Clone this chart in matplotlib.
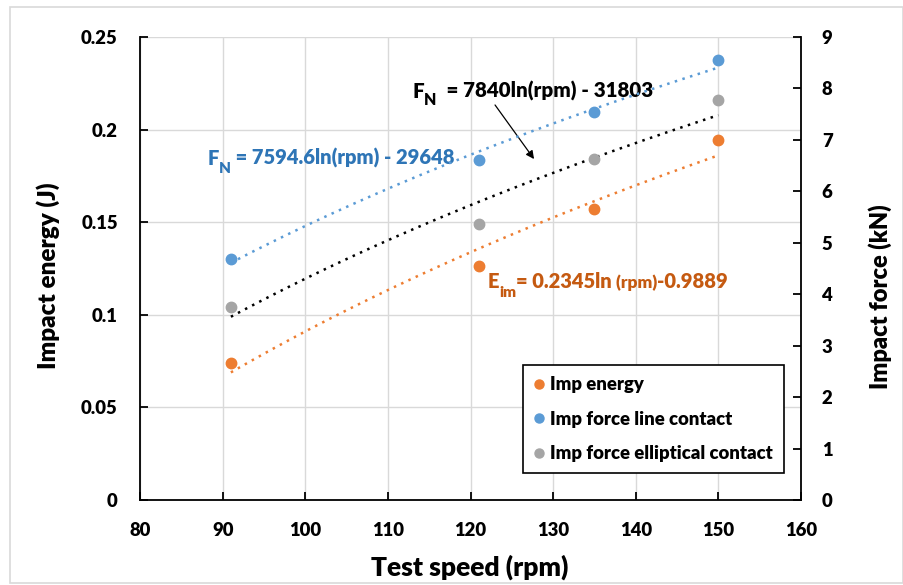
import numpy as np
import matplotlib
matplotlib.use("Agg")
import matplotlib.pyplot as plt
from matplotlib.lines import Line2D
from matplotlib.patches import Rectangle

WEIGHT = "heavy"
plt.rcParams["font.family"] = ["Lato", "DejaVu Sans"]
plt.rcParams["font.weight"] = WEIGHT

# Test data
speed_rpm = [91, 121, 135, 150]
impact_energy_J = [0.0738, 0.1264, 0.1571, 0.1942]
force_line_kN = [4.685, 6.61, 7.54, 8.547]
force_elliptical_kN = [3.757, 5.36, 6.62, 7.77]

# Logarithmic trendline coefficients: y = a*ln(rpm) + b
energy_fit = (0.2345, -0.9889)        # J
line_fit = (7594.6, -29648)           # N
elliptical_fit = (7840, -31803)       # N

ORANGE = "#ED7D31"
BLUE = "#5B9BD5"
GRAY = "#A5A5A5"
BLUE_TXT = "#2E75B6"
ORANGE_TXT = "#C55A11"

fig = plt.figure(figsize=(9.04, 5.85), dpi=100)
fig.patches.append(Rectangle((10 / 904, 2 / 585), 893 / 904, 576 / 585,
                             transform=fig.transFigure, fill=False,
                             edgecolor="#D9D9D9", linewidth=1.2))
ax = fig.add_axes([140 / 904, 85 / 585, 661 / 904, 463 / 585])
ax2 = ax.twinx()

ax.set_xlim(80, 160)
ax.set_ylim(0, 0.25)
ax2.set_ylim(0, 9)
ax.set_xticks(np.arange(80, 161, 10))
ax.set_yticks([0, 0.05, 0.1, 0.15, 0.2, 0.25])
ax.set_yticklabels(["0", "0.05", "0.1", "0.15", "0.2", "0.25"])
ax2.set_yticks(range(0, 10))

ax.grid(True, color="#D9D9D9", linewidth=1.0)
ax.set_axisbelow(True)

for a in (ax, ax2):
    a.spines["top"].set_visible(False)
    for s in ("left", "right", "bottom"):
        a.spines[s].set_linewidth(1.3)
        a.spines[s].set_color("black")
ax.spines["right"].set_visible(False)
ax2.spines["left"].set_visible(False)
ax2.spines["bottom"].set_visible(False)

ax.tick_params(axis="both", direction="in", length=6, width=1.3, pad=16,
               labelsize=13.3)
ax2.tick_params(axis="y", direction="in", length=6, width=1.3, pad=15,
                labelsize=13.3)
for lbl in ax.get_xticklabels() + ax.get_yticklabels() + ax2.get_yticklabels():
    lbl.set_fontweight(WEIGHT)

# Trendlines over the tested speed range
x_fit = np.linspace(min(speed_rpm), max(speed_rpm), 200)
dot = dict(linestyle=(0, (1, 2.2)), linewidth=1.8, dash_capstyle="butt")
ax.plot(x_fit, energy_fit[0] * np.log(x_fit) + energy_fit[1], color=ORANGE, **dot, zorder=2)
ax2.plot(x_fit, (line_fit[0] * np.log(x_fit) + line_fit[1]) / 1000, color=BLUE, **dot, zorder=2)
ax2.plot(x_fit, (elliptical_fit[0] * np.log(x_fit) + elliptical_fit[1]) / 1000, color="black", **dot, zorder=2)

# Measured points
ms = 7.5
ax.plot(speed_rpm, impact_energy_J, "o", color=ORANGE, ms=ms, zorder=3)
ax2.plot(speed_rpm, force_line_kN, "o", color=BLUE, ms=ms, zorder=3)
ax2.plot(speed_rpm, force_elliptical_kN, "o", color=GRAY, ms=ms, zorder=3)

# Axis titles
ax.set_xlabel("Test speed (rpm)", fontsize=19, fontweight=WEIGHT)
ax.xaxis.set_label_coords(0.499, -0.1445)
ax.xaxis.label.set_va("center")
ax.set_ylabel("Impact energy (J)", fontsize=17.5, fontweight=WEIGHT)
ax.yaxis.set_label_coords(-0.139, 0.484)
ax.yaxis.label.set_va("center")
ax2.set_ylabel("Impact force (kN)", fontsize=17, fontweight=WEIGHT, rotation=90)
ax2.yaxis.set_label_coords(1.1195, 0.44)
ax2.yaxis.label.set_va("center")


def equation(axis, x, y, parts, color):
    """Write a run of text pieces (text, size, vertical offset in points)."""
    first = axis.text(x, y, parts[0][0], fontsize=parts[0][1], color=color,
                      fontweight=WEIGHT, va="bottom", ha="left", zorder=5)
    prev = first
    for s, size, dy in parts[1:]:
        prev = axis.annotate(s, xy=(1, 0), xycoords=(prev, first),
                             xytext=(0, dy), textcoords="offset points",
                             fontsize=size, color=color, fontweight=WEIGHT,
                             va="bottom", ha="left", zorder=5)
    return first


fs = 14.5
sub = 11
equation(ax, 88.2, 0.1795,
         [("F", fs, 0), ("N", sub, -5), (f" = {line_fit[0]}ln(rpm) - {abs(line_fit[1])}", fs, 0)],
         BLUE_TXT)
equation(ax, 113.0, 0.2155,
         [("F", 14.8, 0), ("N", 11.5, -5), (f"  = {elliptical_fit[0]}ln(rpm) - {abs(elliptical_fit[1])}", 14.8, 0)],
         "black")
equation(ax, 122.1, 0.1130,
         [("E", fs, 0), ("im", sub, -6), (f"= {energy_fit[0]}ln", fs, 0),
          (" (rpm)", 12.5, 0), (f"-{abs(energy_fit[1])}", fs, 0)],
         ORANGE_TXT)

ax.annotate("", xy=(127.69, 0.1841), xytext=(122.97, 0.2133),
            arrowprops=dict(arrowstyle="-|>", color="black", lw=0.9,
                            mutation_scale=12, shrinkA=0, shrinkB=0),
            zorder=5)

handles = [
    Line2D([], [], marker="o", linestyle="none", color=ORANGE, ms=6.5, label="Imp energy"),
    Line2D([], [], marker="o", linestyle="none", color=BLUE, ms=6.5, label="Imp force line contact"),
    Line2D([], [], marker="o", linestyle="none", color=GRAY, ms=6.5, label="Imp force elliptical contact"),
]
leg = ax2.legend(handles=handles, loc="upper left",
                 bbox_to_anchor=(522.7 / 904, 1 - 365 / 585),
                 bbox_transform=fig.transFigure, borderaxespad=0,
                 fancybox=False, framealpha=1, edgecolor="black",
                 prop={"weight": WEIGHT, "size": 13.3}, handlelength=0.55,
                 handletextpad=0.35, labelspacing=0.95, borderpad=0.6)
leg.get_frame().set_linewidth(1.2)

fig.savefig("out.png", dpi=100)
